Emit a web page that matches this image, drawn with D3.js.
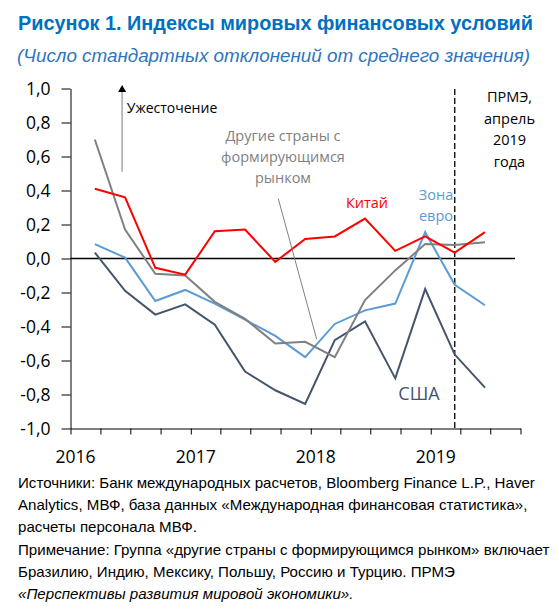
<!DOCTYPE html>
<html>
<head>
<meta charset="utf-8">
<script src="https://cdn.jsdelivr.net/npm/d3@7"></script>
<style>
  body { margin: 0; background: #fff; }
  svg { display: block; }
</style>
</head>
<body>
<div id="chart"></div>
<script>
// quarterly observations (mid last month of quarter)
const dates = ["2016-03-15", "2016-06-15", "2016-09-15", "2016-12-15",
               "2017-03-15", "2017-06-15", "2017-09-15", "2017-12-15",
               "2018-03-15", "2018-06-15", "2018-09-15", "2018-12-15",
               "2019-03-15", "2019-06-15"];
const china = [0.41, 0.36, -0.055, -0.095, 0.16, 0.17, -0.02, 0.115, 0.13, 0.235, 0.045, 0.13, 0.035, 0.155];
const otherEM = [0.70, 0.17, -0.09, -0.10, -0.255, -0.355, -0.50, -0.49, -0.58, -0.245, -0.07, 0.085, 0.08, 0.095];
const euroArea = [0.085, 0.005, -0.25, -0.185, -0.265, -0.36, -0.455, -0.58, -0.385, -0.305, -0.265, 0.155, -0.155, -0.275];
const usa = [0.035, -0.19, -0.33, -0.27, -0.39, -0.665, -0.775, -0.855, -0.48, -0.37, -0.705, -0.18, -0.565, -0.76];

const yTicks = [-1, -0.8, -0.6, -0.4, -0.2, 0, 0.2, 0.4, 0.6, 0.8, 1];
const yearLabels = ["2016", "2017", "2018", "2019"];
const weoDate = "2019-03-15";

const noteLines = [
    "Источники: Банк международных расчетов, Bloomberg Finance L.P., Haver",
    "Analytics, МВФ, база данных «Международная финансовая статистика»,",
    "расчеты персонала МВФ.",
    "Примечание: Группа «другие страны с формирующимся рынком» включает",
    "Бразилию, Индию, Мексику, Польшу, Россию и Турцию. ПРМЭ",
    "«Перспективы развития мировой экономики»."
];

const parseDate = d3.timeParse("%Y-%m-%d");
const ru = d3.formatLocale({decimal: ",", thousands: " ", grouping: [3], currency: ["", ""], minus: "-"});
const fmt = ru.format(".1f");

const W = 559, H = 615;
const svg = d3.select("#chart").append("svg")
    .attr("width", W)
    .attr("height", H);

const x = d3.scaleTime()
    .domain([new Date(2016, 0, 1), new Date(2019, 9, 1)])
    .range([70.5, 520.5]);
const y = d3.scaleLinear().domain([-1, 1]).range([428.5, 88.5]);

// title
svg.append("text")
    .attr("x", 18).attr("y", 30)
    .attr("fill", "#0070c0")
    .style("font-family", "'Liberation Sans', Arial, sans-serif")
    .style("font-weight", "bold")
    .style("font-size", "20px")
    .attr("textLength", 515).attr("lengthAdjust", "spacingAndGlyphs")
    .text("Рисунок 1. Индексы мировых финансовых условий");

svg.append("text")
    .attr("x", 17).attr("y", 62)
    .attr("fill", "#2e74c0")
    .style("font-family", "'Liberation Sans', Arial, sans-serif")
    .style("font-style", "italic")
    .style("font-size", "17.5px")
    .attr("textLength", 513).attr("lengthAdjust", "spacingAndGlyphs")
    .text("(Число стандартных отклонений от среднего значения)");

const plot = svg.append("g");

// y axis
const yAxis = d3.axisLeft(y)
    .tickValues(yTicks)
    .tickFormat(d => fmt(d))
    .tickSize(9)
    .tickSizeOuter(0)
    .tickPadding(11);

const yg = plot.append("g")
    .attr("transform", "translate(70.5,0)")
    .call(yAxis);
yg.select(".domain").attr("stroke", "#000");
yg.selectAll("text")
    .style("font-family", "'Open Sans', sans-serif")
    .style("font-size", "17.5px")
    .attr("fill", "#000");

// x axis, quarterly ticks
const xAxis = d3.axisBottom(x)
    .ticks(d3.timeMonth.every(3))
    .tickFormat("")
    .tickSize(6)
    .tickSizeOuter(0);

const xg = plot.append("g")
    .attr("transform", "translate(0,428.5)")
    .call(xAxis);
xg.select(".domain").attr("stroke", "#000");

plot.selectAll(".yearlabel")
    .data(yearLabels)
    .enter().append("text")
    .attr("class", "yearlabel")
    .attr("x", d => x(new Date(+d, 0, 1)) + 5)
    .attr("y", 463)
    .attr("text-anchor", "middle")
    .style("font-family", "'Open Sans', sans-serif")
    .style("font-size", "17.5px")
    .text(d => d);

// zero line
plot.append("line")
    .attr("x1", 70.5).attr("x2", 515)
    .attr("y1", y(0)).attr("y2", y(0))
    .attr("stroke", "#000").attr("stroke-width", 1.5);

// WEO dashed line
plot.append("line")
    .attr("x1", x(parseDate(weoDate))).attr("x2", x(parseDate(weoDate)))
    .attr("y1", 89).attr("y2", 428)
    .attr("stroke", "#000").attr("stroke-width", 1.3)
    .attr("stroke-dasharray", "6,3");

// series
const series = [
    {name: "usa", values: usa, color: "#44546a"},
    {name: "euro", values: euroArea, color: "#5b9bd5"},
    {name: "other", values: otherEM, color: "#808080"},
    {name: "china", values: china, color: "#ff0000"}
];

const line = d3.line()
    .x(d => x(d.date))
    .y(d => y(d.value));

plot.selectAll(".series")
    .data(series)
    .enter().append("path")
    .attr("class", "series")
    .attr("fill", "none")
    .attr("stroke", d => d.color)
    .attr("stroke-width", 2)
    .attr("stroke-linejoin", "miter")
    .attr("d", d => line(d.values.map((v, i) => ({date: parseDate(dates[i]), value: v}))));

// tightening arrow
const arrowX = x(parseDate("2016-06-06"));
plot.append("line")
    .attr("x1", arrowX).attr("x2", arrowX)
    .attr("y1", y(0.51)).attr("y2", y(0.985))
    .attr("stroke", "#a6a6a6").attr("stroke-width", 1.5);
plot.append("path")
    .attr("d", `M${arrowX},${y(1.02)} L${arrowX - 4},${y(0.98)} L${arrowX + 4},${y(0.98)} Z`)
    .attr("fill", "#000");

// thin pointer line for other EM label
plot.append("line")
    .attr("x1", x(parseDate("2017-09-24"))).attr("y1", y(0.353))
    .attr("x2", x(parseDate("2018-01-19"))).attr("y2", y(-0.475))
    .attr("stroke", "#808080").attr("stroke-width", 1);

// labels
const labelFont = "'Open Sans', sans-serif";
function label(lines, cx, y0, color, size, step) {
    const t = plot.append("text")
        .attr("text-anchor", "middle")
        .attr("fill", color)
        .style("font-family", labelFont)
        .style("font-size", size + "px");
    lines.forEach((s, i) => {
        t.append("tspan").attr("x", cx).attr("y", y0 + i * step).text(s);
    });
}

label(["Ужесточение"], 172, 113, "#000", 14, 21);
label(["Другие страны с", "формирующимся", "рынком"], 283, 141, "#7f7f7f", 14.5, 21);
label(["Китай"], 367, 208, "#ff0000", 14.5, 21);
label(["Зона", "евро"], 436, 200, "#5b9bd5", 14.5, 21);
label(["ПРМЭ,", "апрель", "2019", "года"], 509.5, 102, "#000", 14.5, 21.6);
label(["США"], 419, 400, "#44546a", 18, 21);

// notes
const notes = svg.append("g")
    .style("font-family", "'Liberation Sans', Arial, sans-serif")
    .style("font-size", "15px")
    .attr("fill", "#000");

const noteText = notes.selectAll("text")
    .data(noteLines)
    .enter().append("text")
    .attr("y", (d, i) => 488 + i * 22.2)
    .style("font-style", (d, i) => i === 5 ? "italic" : "normal")
    .text(d => d);

// condense notes uniformly so first line spans the same width as in the source
const natural = noteText.nodes()[0].getComputedTextLength();
const k = 517 / natural;
noteText.attr("transform", `translate(18,0) scale(${k},1)`);
</script>
</body>
</html>
